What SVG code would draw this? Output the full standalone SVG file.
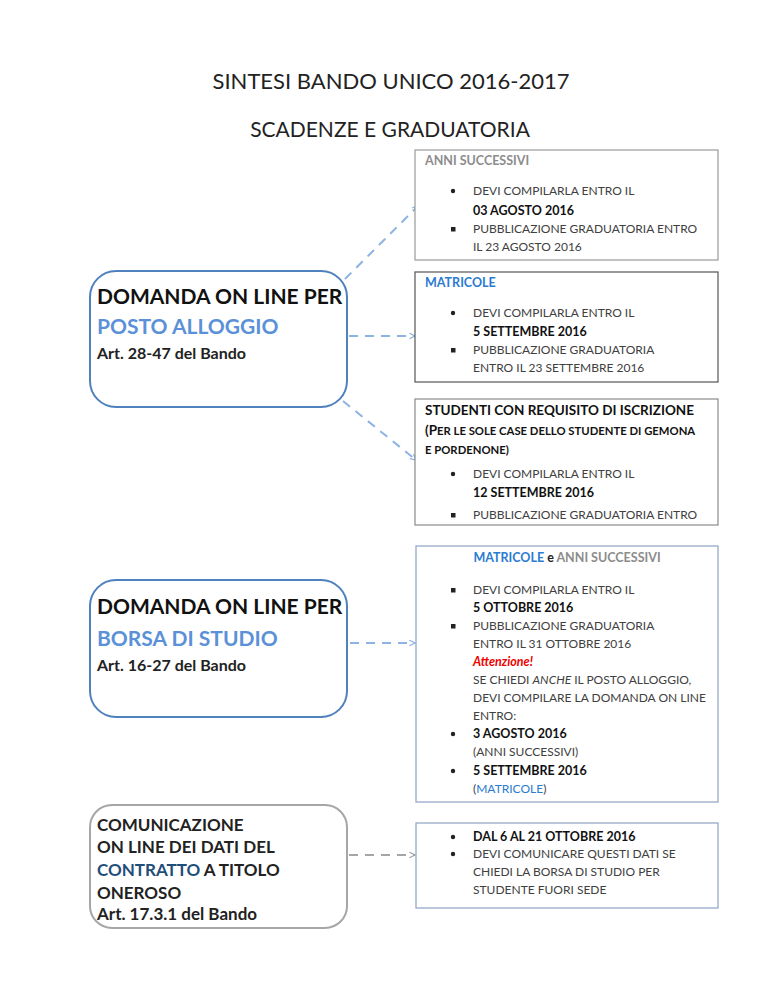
<svg xmlns="http://www.w3.org/2000/svg" width="768" height="994" viewBox="0 0 768 994">
<defs>
<style>
text{font-family:Lato,"Open Sans","Liberation Sans",sans-serif;}
.t{font-size:22px;fill:#222;text-anchor:middle;}
.b{font-size:12px;fill:#404040;}
.bb{font-size:12.5px;fill:#111;font-weight:bold;}
.h{font-size:12.5px;font-weight:bold;}
.nb{font-size:21px;font-weight:bold;fill:#111;}
.nbl{font-size:21px;font-weight:bold;fill:#5b91d8;}
.na{font-size:16px;font-weight:bold;fill:#222;}
.n3{font-size:17px;font-weight:bold;fill:#222;}
.box{fill:#fff;stroke-width:1.2;}
.dot{fill:#222;}
.con{fill:none;stroke:#8db3e2;stroke-width:2;stroke-dasharray:9,7;}
.cong{fill:none;stroke:#a6a6a6;stroke-width:2;stroke-dasharray:9,7;}
</style>
<marker id="ah" viewBox="0 0 10 10" refX="9" refY="5" markerWidth="7" markerHeight="7" markerUnits="userSpaceOnUse" orient="auto">
<path d="M1,1 L9,5 L1,9" fill="none" stroke="#8db3e2" stroke-width="1.8"/>
</marker>
<marker id="ahg" viewBox="0 0 10 10" refX="9" refY="5" markerWidth="7" markerHeight="7" markerUnits="userSpaceOnUse" orient="auto">
<path d="M1,1 L9,5 L1,9" fill="none" stroke="#a6a6a6" stroke-width="1.8"/>
</marker>
</defs>
<rect width="768" height="994" fill="#fff"/>

<g id="title">
<text class="t" x="391" y="89">SINTESI BANDO UNICO 2016-2017</text>
<text class="t" x="390" y="137" style="font-size:21px">SCADENZE E GRADUATORIA</text>
</g>

<g id="connectors">
<line class="con" x1="345" y1="279" x2="418" y2="206" marker-end="url(#ah)"/>
<line class="con" x1="349" y1="336" x2="415" y2="336" marker-end="url(#ah)"/>
<line class="con" x1="343" y1="401" x2="416" y2="460" marker-end="url(#ah)"/>
<line class="con" x1="350" y1="643" x2="415" y2="643" marker-end="url(#ah)"/>
<line class="cong" x1="349" y1="855" x2="415" y2="855" marker-end="url(#ahg)"/>
</g>

<g id="node-posto">
<rect x="90" y="271" width="257" height="136" rx="26" fill="#fff" stroke="#4f81bd" stroke-width="2"/>
<text class="nb" x="97" y="304">DOMANDA ON LINE PER</text>
<text class="nbl" x="97" y="334">POSTO ALLOGGIO</text>
<text class="na" x="97" y="359">Art. 28-47 del Bando</text>
</g>

<g id="node-borsa">
<rect x="90" y="580" width="257" height="137" rx="26" fill="#fff" stroke="#4f81bd" stroke-width="2"/>
<text class="nb" x="97" y="614">DOMANDA ON LINE PER</text>
<text class="nbl" x="97" y="646">BORSA DI STUDIO</text>
<text class="na" x="97" y="671">Art. 16-27 del Bando</text>
</g>

<g id="node-contratto">
<rect x="90" y="805" width="257" height="123" rx="22" fill="#fff" stroke="#a6a6a6" stroke-width="2"/>
<text class="n3" x="97" y="831">COMUNICAZIONE</text>
<text class="n3" x="97" y="853">ON LINE DEI DATI DEL</text>
<text class="n3" x="97" y="876"><tspan fill="#1f4e79">CONTRATTO</tspan> A TITOLO</text>
<text class="n3" x="97" y="899">ONEROSO</text>
<text class="n3" x="97" y="920">Art. 17.3.1 del Bando</text>
</g>

<g id="box-anni">
<rect class="box" x="415" y="150" width="303" height="110" stroke="#9a9a9a"/>
<text class="h" x="425" y="165" fill="#8c8c8c">ANNI SUCCESSIVI</text>
<circle class="dot" cx="453" cy="191" r="2.2"/>
<text class="b" x="473" y="195">DEVI COMPILARLA ENTRO IL</text>
<text class="bb" x="473" y="215">03 AGOSTO 2016</text>
<rect class="dot" x="451" y="227" width="4.5" height="4.5"/>
<text class="b" x="473" y="233">PUBBLICAZIONE GRADUATORIA ENTRO</text>
<text class="b" x="473" y="251">IL 23 AGOSTO 2016</text>
</g>

<g id="box-matricole">
<rect class="box" x="415" y="272" width="303" height="110" stroke="#555"/>
<text class="h" x="425" y="287" fill="#2a7bd1">MATRICOLE</text>
<circle class="dot" cx="453" cy="313" r="2.2"/>
<text class="b" x="473" y="317">DEVI COMPILARLA ENTRO IL</text>
<text class="bb" x="473" y="336">5 SETTEMBRE 2016</text>
<rect class="dot" x="451" y="348" width="4.5" height="4.5"/>
<text class="b" x="473" y="354">PUBBLICAZIONE GRADUATORIA</text>
<text class="b" x="473" y="372">ENTRO IL 23 SETTEMBRE 2016</text>
</g>

<g id="box-studenti">
<rect class="box" x="415" y="399" width="303" height="126" stroke="#8a8a8a"/>
<text class="bb" x="425" y="415" style="font-size:13.5px">STUDENTI CON REQUISITO DI ISCRIZIONE</text>
<text class="bb" x="425" y="435" style="font-size:13.5px">(P<tspan style="font-size:11.3px">ER LE SOLE CASE DELLO STUDENTE DI GEMONA</tspan></text>
<text class="bb" x="425" y="454" style="font-size:11.3px">E PORDENONE)</text>
<circle class="dot" cx="453" cy="474" r="2.2"/>
<text class="b" x="473" y="478">DEVI COMPILARLA ENTRO IL</text>
<text class="bb" x="473" y="497">12 SETTEMBRE 2016</text>
<rect class="dot" x="451" y="513" width="4.5" height="4.5"/>
<text class="b" x="473" y="519">PUBBLICAZIONE GRADUATORIA ENTRO</text>
</g>

<g id="box-borsa">
<rect class="box" x="416" y="546" width="302" height="256" stroke="#8ea2c4"/>
<text class="h" x="567" y="562" text-anchor="middle"><tspan fill="#2a7bd1">MATRICOLE</tspan><tspan fill="#222">  e  </tspan><tspan fill="#8c8c8c">ANNI SUCCESSIVI</tspan></text>
<rect class="dot" x="451" y="588" width="4.5" height="4.5"/>
<text class="b" x="473" y="594">DEVI COMPILARLA ENTRO IL</text>
<text class="bb" x="473" y="612">5 OTTOBRE 2016</text>
<rect class="dot" x="451" y="624" width="4.5" height="4.5"/>
<text class="b" x="473" y="630">PUBBLICAZIONE GRADUATORIA</text>
<text class="b" x="473" y="648">ENTRO IL 31 OTTOBRE 2016</text>
<text class="bb" x="473" y="666" style="fill:#e00;font-style:italic">Attenzione!</text>
<text class="b" x="473" y="684">SE CHIEDI <tspan font-style="italic">ANCHE</tspan> IL POSTO ALLOGGIO,</text>
<text class="b" x="473" y="702">DEVI COMPILARE LA DOMANDA ON LINE</text>
<text class="b" x="473" y="720">ENTRO:</text>
<circle class="dot" cx="453" cy="734" r="2.2"/>
<text class="bb" x="473" y="738">3 AGOSTO 2016</text>
<text class="b" x="473" y="756">(ANNI SUCCESSIVI)</text>
<circle class="dot" cx="453" cy="771" r="2.2"/>
<text class="bb" x="473" y="775">5 SETTEMBRE 2016</text>
<text class="b" x="473" y="793">(<tspan fill="#2a7bd1">MATRICOLE</tspan>)</text>
</g>

<g id="box-contratto">
<rect class="box" x="416" y="823" width="302" height="85" stroke="#8ea2c4"/>
<circle class="dot" cx="453" cy="837" r="2.2"/>
<text class="bb" x="473" y="841">DAL 6 AL 21 OTTOBRE 2016</text>
<circle class="dot" cx="453" cy="854" r="2.2"/>
<text class="b" x="473" y="858">DEVI COMUNICARE QUESTI DATI SE</text>
<text class="b" x="473" y="876">CHIEDI LA BORSA DI STUDIO PER</text>
<text class="b" x="473" y="894">STUDENTE FUORI SEDE</text>
</g>
</svg>
